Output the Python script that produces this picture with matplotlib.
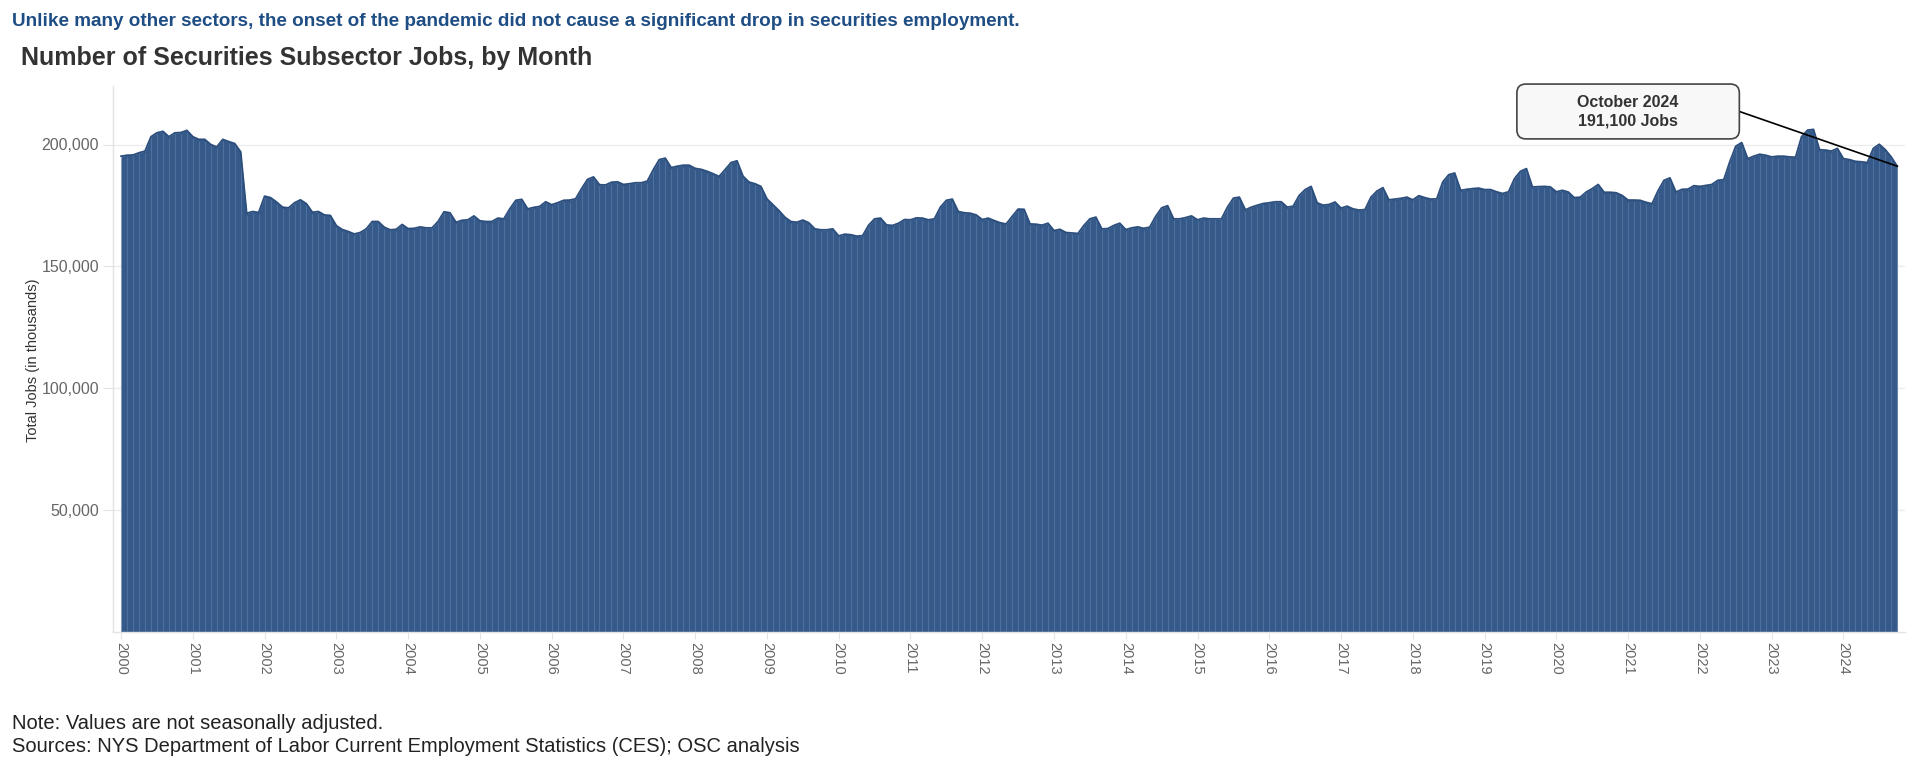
import matplotlib
matplotlib.use("Agg")
import matplotlib.pyplot as plt
from matplotlib.patches import FancyBboxPatch
from matplotlib.ticker import FuncFormatter
import numpy as np

plt.rcParams['font.family'] = ['Liberation Sans', 'DejaVu Sans']

# Monthly securities subsector jobs (thousands), Jan 2000 - Oct 2024
y2000 = [195.2, 195.6, 195.7, 196.6, 197.3, 203.2, 204.8, 205.4, 203.2, 204.8, 204.9, 205.8]
y2001 = [203.2, 202.1, 202.1, 200.0, 199.0, 202.1, 201.2, 200.4, 197.0, 171.8, 172.5, 172.1]
y2002 = [178.8, 178.2, 176.4, 174.3, 174.0, 176.1, 177.3, 175.7, 172.2, 172.5, 171.1, 170.9]
y2003 = [166.7, 165.1, 164.3, 163.3, 163.9, 165.4, 168.4, 168.4, 166.1, 165.0, 165.2, 167.2]
y2004 = [165.5, 165.6, 166.2, 165.8, 165.8, 168.4, 172.4, 172.0, 168.1, 168.9, 169.1, 170.7]
y2005 = [168.7, 168.4, 168.4, 169.8, 169.5, 173.6, 177.1, 177.5, 173.6, 174.2, 174.6, 176.5]
y2006 = [175.3, 176.1, 177.1, 177.2, 177.7, 181.9, 185.7, 186.7, 183.5, 183.4, 184.5, 184.7]
y2007 = [183.6, 183.9, 184.3, 184.3, 185.0, 189.7, 193.8, 194.4, 190.5, 191.1, 191.5, 191.5]
y2008 = [190.2, 189.8, 189.0, 188.0, 186.9, 189.7, 192.6, 193.3, 187.0, 184.6, 183.9, 182.8]
y2009 = [177.7, 175.3, 172.9, 170.2, 168.4, 168.1, 169.0, 167.9, 165.4, 165.0, 165.0, 165.4]
y2010 = [162.5, 163.2, 163.0, 162.4, 162.6, 166.9, 169.5, 169.8, 167.0, 166.8, 167.7, 169.2]
y2011 = [169.1, 169.9, 169.8, 169.1, 169.5, 174.3, 177.1, 177.6, 172.5, 172.0, 171.8, 171.1]
y2012 = [169.2, 169.8, 168.8, 167.9, 167.4, 170.5, 173.5, 173.4, 167.4, 167.3, 166.9, 167.7]
y2013 = [164.7, 165.2, 163.9, 163.7, 163.5, 166.8, 169.5, 170.2, 165.4, 165.5, 166.8, 167.7]
y2014 = [165.1, 165.8, 166.2, 165.6, 166.1, 170.5, 174.0, 174.9, 169.5, 169.5, 170.0, 170.7]
y2015 = [169.1, 169.8, 169.5, 169.5, 169.5, 174.3, 178.0, 178.4, 173.2, 174.3, 175.1, 175.8]
y2016 = [176.1, 176.5, 176.5, 174.3, 174.7, 179.1, 181.5, 182.8, 176.1, 175.1, 175.4, 176.4]
y2017 = [173.9, 174.7, 173.6, 173.1, 173.3, 178.4, 180.9, 182.3, 177.3, 177.6, 177.9, 178.4]
y2018 = [177.3, 179.0, 178.2, 177.6, 177.7, 184.6, 187.6, 188.3, 181.2, 181.6, 181.9, 182.1]
y2019 = [181.5, 181.5, 180.6, 179.9, 180.6, 186.0, 189.0, 190.1, 182.6, 182.7, 182.8, 182.6]
y2020 = [180.6, 181.2, 180.5, 178.2, 178.4, 180.5, 181.9, 183.6, 180.4, 180.4, 180.2, 179.1]
y2021 = [177.2, 177.2, 177.1, 176.3, 175.7, 181.0, 185.3, 186.3, 180.5, 181.6, 181.7, 183.1]
y2022 = [182.8, 183.2, 183.6, 185.3, 185.6, 192.9, 199.3, 200.8, 194.2, 195.2, 196.0, 195.6]
y2023 = [194.9, 195.2, 195.2, 194.9, 194.8, 203.2, 205.9, 206.2, 197.9, 197.7, 197.3, 198.4]
y2024 = [194.2, 193.8, 193.1, 192.9, 192.6, 198.4, 200.1, 197.9, 194.9, 191.1]

years = list(range(2000, 2025))
year_labels = [str(y) for y in years]
y_ticks = [50000, 100000, 150000, 200000]

title = "Number of Securities Subsector Jobs, by Month"
subtitle = "Unlike many other sectors, the onset of the pandemic did not cause a significant drop in securities employment."
ylabel = "Total Jobs (in thousands)"
note1 = "Note: Values are not seasonally adjusted."
note2 = "Sources: NYS Department of Labor Current Employment Statistics (CES); OSC analysis"
annot_text = "October 2024\n191,100 Jobs"

series = (y2000 + y2001 + y2002 + y2003 + y2004 + y2005 + y2006 + y2007 + y2008 +
          y2009 + y2010 + y2011 + y2012 + y2013 + y2014 + y2015 + y2016 + y2017 +
          y2018 + y2019 + y2020 + y2021 + y2022 + y2023 + y2024)
vals = np.array(series) * 1000.0
x = np.arange(len(vals))

W, H = 1920, 769
fig = plt.figure(figsize=(W / 100, H / 100), dpi=100)
ax = fig.add_axes([113 / W, 1 - 632 / H, (1905 - 113) / W, (632 - 86) / H])

fill_c = '#355A8A'
ax.fill_between(x, vals, 0, color=fill_c, lw=0, zorder=2)
ax.vlines(x, 0, vals - 600, color='#6787B2', lw=0.8, alpha=0.5, zorder=3)
ax.plot(x, vals, color='#2C4E7C', lw=1.3, zorder=4)

ax.set_xlim(-1.35, 298.3)
ax.set_ylim(0, 224000)

ax.set_yticks(y_ticks)
ax.yaxis.set_major_formatter(FuncFormatter(lambda v, p: f"{v:,.0f}"))
ax.yaxis.grid(True, color='#EDEDED', lw=1.0, zorder=0)
ax.set_axisbelow(True)

ax.set_xticks([12 * k for k in range(len(years))])
ax.set_xticklabels(year_labels, rotation=-90, va='top', ha='center')

for s in ['top', 'right']:
    ax.spines[s].set_visible(False)
for s in ['left', 'bottom']:
    ax.spines[s].set_color('#E3E3E3')
    ax.spines[s].set_linewidth(1.0)

ax.tick_params(axis='y', length=7, color='#E3E3E3', labelcolor='#666666', labelsize=11.5, pad=3)
ax.tick_params(axis='x', length=5, color='#E3E3E3', labelcolor='#666666', labelsize=10.5, pad=2)

# Annotation box
bx0, bx1 = 233.4, 270.6
by0, by1 = 202300, 224800
x_px = (298.3 + 1.35) / (1905 - 113)
y_px = 224000 / (632 - 86)
box = FancyBboxPatch((bx0, by0), bx1 - bx0, by1 - by0,
                     boxstyle="round,pad=0,rounding_size=1.5",
                     mutation_aspect=y_px / x_px,
                     facecolor='#F8F8F8', edgecolor='#444444', lw=1.2,
                     clip_on=False, zorder=6)
ax.add_patch(box)
ax.text((bx0 + bx1) / 2, (by0 + by1) / 2, annot_text, ha='center', va='center',
        fontsize=11.5, fontweight='bold', color='#333333', linespacing=1.3,
        zorder=7, clip_on=False)
ax.plot([bx1, x[-1]], [(by0 + by1) / 2, vals[-1]], color='black', lw=1.2,
        zorder=5, clip_on=False)

fig.text(12 / W, 1 - 22 / H, subtitle, fontsize=13.6, fontweight='bold',
         color='#1F4E85', va='center', ha='left')
fig.text(21 / W, 1 - 57.5 / H, title, fontsize=18, fontweight='bold',
         color='#333333', va='center', ha='left')
fig.text(33 / W, 1 - 360 / H, ylabel, rotation=90, fontsize=10.5,
         color='#333333', va='center', ha='center')
fig.text(12 / W, 1 - 723.5 / H, note1, fontsize=14.5, color='#222222', va='center', ha='left')
fig.text(12 / W, 1 - 746 / H, note2, fontsize=14.5, color='#222222', va='center', ha='left')

fig.savefig('out.png', dpi=100, facecolor='white')
